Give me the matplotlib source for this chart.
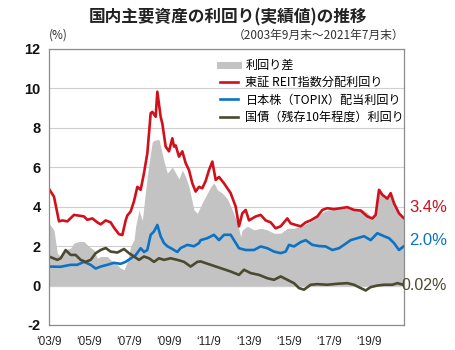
import numpy as np
import matplotlib
matplotlib.use('Agg')
from matplotlib import pyplot as plt

plt.rcParams['font.family'] = ['Noto Sans CJK JP', 'DejaVu Sans']

# months counted from 2003/9 (=0) up to 2021/7 (=214)
reit_m = [0, 3, 6, 8, 11, 15, 21, 23, 26, 29, 31, 34, 37, 39, 42, 44, 46, 47, 49, 51,
          53, 55, 57, 59, 61, 62, 64, 65, 67, 68, 70, 72, 74, 75, 76, 78, 80, 82, 84, 86,
          88, 90, 92, 94, 96, 98, 100, 102, 105, 109, 112, 114, 116, 118, 120, 124, 127,
          130, 133, 136, 139, 143, 145, 148, 151, 154, 157, 161, 164, 167, 171, 175, 179,
          183, 187, 191, 194, 196, 198, 200, 203, 205, 207, 210, 213, 214]
reit_y = [4.9, 4.5, 3.25, 3.3, 3.25, 3.58, 3.5, 3.33, 3.4, 3.2, 3.1, 3.3, 3.2, 2.93, 2.6,
          2.56, 3.3, 3.55, 3.75, 4.27, 5.0, 4.85, 5.7, 6.7, 8.73, 8.8, 8.55, 9.82, 8.55, 8.2,
          7.04, 6.8, 7.46, 7.04, 7.1, 6.53, 6.8, 6.2, 5.85, 5.18, 4.76, 5.0, 4.93, 5.3, 5.85,
          6.28, 5.35, 5.5, 5.18, 4.68, 4.0, 3.0, 3.66, 3.83, 3.3, 3.5, 3.58, 3.3, 3.2, 2.9,
          3.0, 3.4, 3.15, 3.07, 3.0, 3.2, 3.3, 3.5, 3.83, 3.92, 3.87, 3.92, 3.97, 3.83, 3.8,
          3.5, 3.4, 3.58, 4.85, 4.6, 4.4, 4.68, 4.17, 3.66, 3.4, 3.4]

topix_m = [0, 7, 13, 17, 21, 25, 28, 31, 35, 39, 43, 46, 49, 52, 55, 57, 59, 61, 63, 65,
           67, 69, 71, 73, 75, 77, 79, 83, 87, 90, 91, 95, 99, 102, 105, 109, 111, 114, 118,
           123, 127, 131, 135, 139, 142, 144, 147, 151, 154, 158, 162, 166, 170, 174, 177,
           181, 185, 189, 193, 197, 201, 204, 207, 210, 213, 214]
topix_y = [0.96, 0.95, 1.05, 1.05, 1.2, 1.05, 0.86, 0.96, 1.05, 1.15, 1.1, 1.2, 1.37, 1.54,
           1.89, 1.7, 1.8, 2.57, 2.74, 3.07, 2.49, 2.15, 1.99, 1.9, 1.8, 1.7, 1.9, 2.06, 1.99,
           2.15, 2.3, 2.4, 2.57, 2.3, 2.57, 2.57, 2.3, 1.89, 1.8, 1.8, 1.98, 1.89, 1.72, 1.64,
           1.72, 2.06, 1.98, 2.2, 2.3, 2.06, 2.0, 1.98, 1.8, 1.89, 2.06, 2.3, 2.4, 2.5, 2.3,
           2.65, 2.5, 2.4, 2.15, 1.8, 2.0, 2.0]

jgb_m = [0, 5, 7, 10, 13, 16, 19, 22, 25, 28, 31, 34, 37, 41, 45, 48, 51, 54, 57, 60, 63,
         66, 69, 73, 77, 81, 85, 89, 91, 97, 103, 109, 114, 117, 121, 126, 131, 135, 139,
         143, 147, 150, 153, 157, 161, 167, 173, 179, 183, 187, 190, 193, 197, 201, 206,
         209, 213, 214]
jgb_y = [1.47, 1.3, 1.38, 1.8, 1.55, 1.55, 1.3, 1.2, 1.3, 1.64, 1.8, 1.9, 1.72, 1.67, 1.85,
         1.64, 1.47, 1.3, 1.47, 1.38, 1.2, 1.38, 1.3, 1.38, 1.3, 1.2, 0.96, 1.2, 1.22, 1.05,
         0.88, 0.71, 0.54, 0.8, 0.63, 0.54, 0.37, 0.29, 0.46, 0.29, 0.12, -0.13, -0.21, 0.04,
         0.07, 0.04, 0.09, 0.12, 0.04, -0.13, -0.25, -0.08, 0.0, 0.04, 0.04, 0.12, 0.03, 0.02]

spread_m = [0, 3, 5, 7, 10, 13, 15, 18, 21, 24, 27, 29, 31, 35, 37, 40, 43, 45, 47, 49, 51,
            52, 54, 56, 58, 60, 62, 64, 66, 69, 71, 74, 76, 78, 80, 82, 84, 87, 89, 92, 95,
            97, 99, 101, 104, 107, 110, 113, 115, 116, 119, 123, 127, 131, 135, 139, 143,
            147, 151, 155, 159, 163, 167, 171, 175, 179, 183, 187, 191, 194, 196, 198, 200,
            203, 205, 207, 210, 213, 214]
spread_y = [3.16, 2.8, 1.64, 1.47, 1.8, 1.9, 2.15, 2.23, 2.23, 1.98, 1.8, 1.38, 1.47, 1.47,
            1.3, 1.13, 0.88, 0.8, 1.2, 2.0, 2.3, 3.0, 3.83, 3.3, 4.85, 6.2, 7.3, 7.38, 7.4,
            6.3, 5.7, 6.0, 5.7, 5.4, 5.85, 5.5, 5.0, 3.83, 3.66, 4.2, 4.68, 5.0, 5.2, 4.85,
            4.68, 4.4, 3.83, 3.16, 2.48, 2.82, 3.0, 2.82, 2.9, 2.82, 2.65, 2.65, 2.9, 2.9, 3.0,
            3.15, 3.33, 3.66, 3.83, 3.87, 3.92, 3.92, 3.83, 3.9, 3.7, 3.4, 3.6, 4.8, 4.55,
            4.35, 4.6, 4.1, 3.6, 3.35, 3.35]

tick_m = [0, 24, 48, 72, 96, 120, 144, 168, 192]
tick_labels = ['\u201803/9', '\u201805/9', '\u201807/9', '\u201809/9', '\u201811/9',
               '\u201813/9', '\u201815/9', '\u201817/9', '\u201819/9']
legend_labels = ['利回り差', '東証 REIT指数分配利回り', '日本株（TOPIX）配当利回り',
                 '国債（残存10年程度）利回り']
end_labels = ['3.4%', '2.0%', '0.02%']

c_gray = '#c3c3c3'
c_red = '#d0101b'
c_blue = '#0b73c6'
c_olive = '#4b4a30'
c_frame = '#8c8c8c'

fig = plt.figure(figsize=(4.55, 3.5), dpi=100)
ax = fig.add_axes([49 / 455, 1 - 325 / 350, 355 / 455, 276.3 / 350])

ax.fill_between(spread_m, 0, spread_y, color=c_gray, lw=0, label=legend_labels[0])
ax.plot(topix_m, topix_y, color=c_blue, lw=1.9, label=legend_labels[2])
ax.plot(jgb_m, jgb_y, color=c_olive, lw=1.9, label=legend_labels[3])
ax.plot(reit_m, reit_y, color=c_red, lw=1.9, label=legend_labels[1])

ax.set_xlim(0, 213)
ax.set_ylim(-2, 12)
ax.set_yticks(range(-2, 13, 2))
ax.set_yticklabels([str(v) for v in range(-2, 13, 2)],
                   fontdict={'family': 'Liberation Sans', 'weight': 'bold', 'size': 10.5})
ax.set_xticks(tick_m)
ax.set_xticklabels(tick_labels, fontdict={'family': 'Liberation Sans', 'size': 8.5})
ax.tick_params(axis='x', length=0, pad=8, colors='#222222')
ax.tick_params(axis='y', length=0, pad=6, colors='#111111')
ax.grid(axis='y', color='#cfcfcf', lw=0.8)
ax.set_axisbelow(True)
for s in ax.spines.values():
    s.set_color(c_frame)
    s.set_linewidth(0.9)

# little ticks standing on the zero line
sec = ax.secondary_xaxis(2 / 14)
sec.set_xticks(tick_m)
sec.tick_params(axis='x', direction='in', length=3, color='#9a9a9a', labelbottom=False)
sec.spines['bottom'].set_color('#b5b5b5')
sec.spines['bottom'].set_linewidth(0.8)

h, l = ax.get_legend_handles_labels()
order = [0, 3, 1, 2]
handles = [h[i] for i in order]
handles[0] = plt.Line2D([], [], color=c_gray, lw=5)
leg = ax.legend(handles, [l[i] for i in order], loc='upper left',
                bbox_to_anchor=(0.465, 0.985), frameon=False, fontsize=8.7,
                handlelength=1.45, handletextpad=0.65, labelspacing=0.36, borderpad=0)

tr = ax.get_yaxis_transform()
ax.text(1.121, 3.93, end_labels[0], transform=tr, color=c_red, ha='right', va='center',
        family='Liberation Sans', fontsize=12)
ax.text(1.121, 2.28, end_labels[1], transform=tr, color=c_blue, ha='right', va='center',
        family='Liberation Sans', fontsize=12)
ax.text(1.121, 0.0, end_labels[2], transform=tr, color=c_olive, ha='right', va='center',
        family='Liberation Sans', fontsize=11.5)

fig.text(0.502, 0.951, '国内主要資産の利回り(実績値)の推移', ha='center', va='center',
         fontsize=12, weight='bold', color='#222222')
fig.text(49 / 455, 0.9, '(%)', ha='left', va='center', fontsize=8.5, color='#333333')
fig.text(404 / 455, 0.9, '（2003年9月末～2021年7月末）', ha='right', va='center',
         fontsize=8.5, color='#333333')

fig.savefig('out.png', dpi=100)
